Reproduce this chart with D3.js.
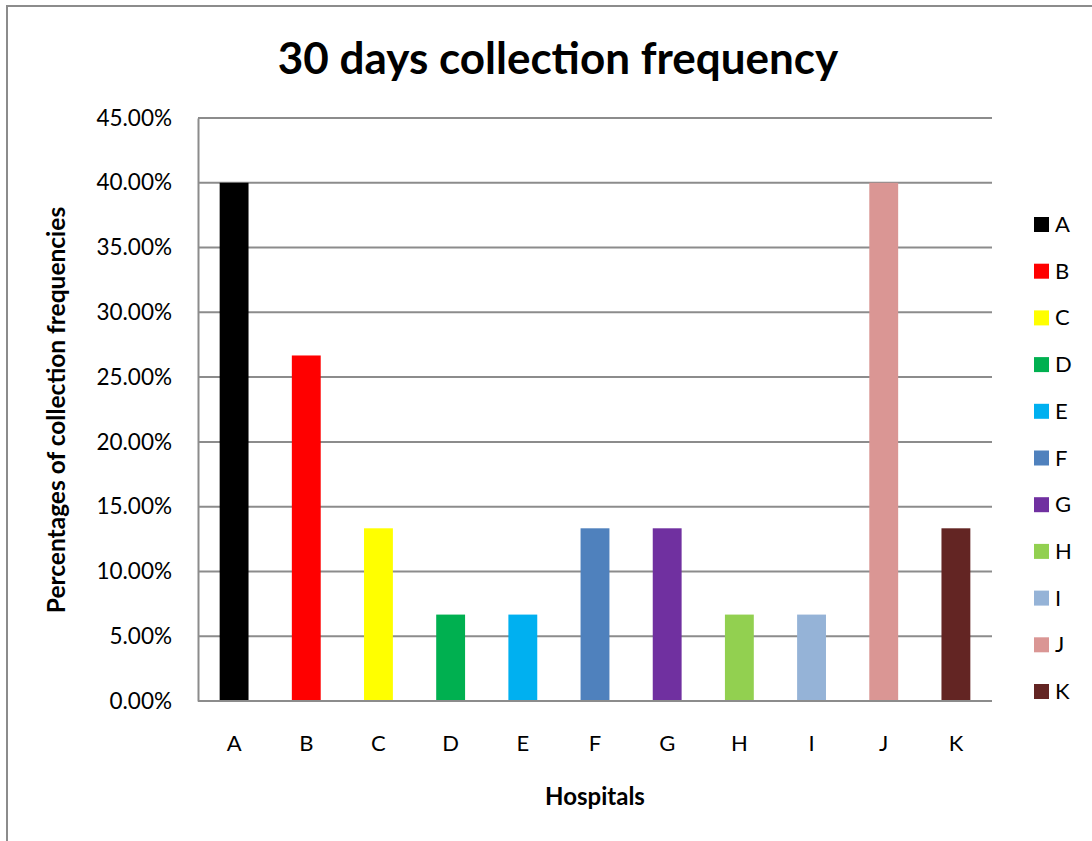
<!DOCTYPE html>
<html>
<head>
<meta charset="utf-8">
<script src="https://cdn.jsdelivr.net/npm/d3@7"></script>
<style>
  html, body { margin: 0; padding: 0; background: #fff; }
  svg { display: block; }
  text { font-family: Lato, "Open Sans", sans-serif; fill: #000; }
</style>
</head>
<body>
<svg id="chart" width="1092" height="841"></svg>
<script>
// Hospitals and their 30-day collection frequencies (percent)
const hospitals = ["A", "B", "C", "D", "E", "F", "G", "H", "I", "J", "K"];
const frequencies = [40.0, 26.67, 13.33, 6.67, 6.67, 13.33, 13.33, 6.67, 6.67, 40.0, 13.33];
const barColors = ["#000000", "#FF0000", "#FFFF00", "#00B050", "#00B0F0", "#4F81BD",
                   "#7030A0", "#92D050", "#95B3D7", "#DA9694", "#632523"];
const yTicks = [0, 5, 10, 15, 20, 25, 30, 35, 40, 45];

const titleText = "30 days collection frequency";
const xTitle = "Hospitals";
const yTitle = "Percentages of collection frequencies";

const svg = d3.select("#chart");

// outer chart frame
svg.append("rect")
  .attr("x", 7).attr("y", 6)
  .attr("width", 1092).attr("height", 900)
  .attr("fill", "none").attr("stroke", "#8c8c8c").attr("stroke-width", 2);

const plot = { left: 198, right: 992, top: 118, bottom: 701 };

const x = d3.scaleBand()
  .domain(hospitals)
  .range([plot.left, plot.right])
  .paddingInner(0.6).paddingOuter(0.3);

const y = d3.scaleLinear()
  .domain([0, 45])
  .range([plot.bottom, plot.top]);

// horizontal gridlines
svg.append("g")
  .selectAll("line")
  .data(yTicks.filter(t => t > 0))
  .join("line")
  .attr("x1", plot.left).attr("x2", plot.right)
  .attr("y1", d => y(d)).attr("y2", d => y(d))
  .attr("stroke", "#8c8c8c").attr("stroke-width", 2);

// bars
svg.append("g")
  .selectAll("rect")
  .data(hospitals.map((h, i) => ({ h, v: frequencies[i], c: barColors[i] })))
  .join("rect")
  .attr("x", d => x(d.h))
  .attr("width", x.bandwidth())
  .attr("y", d => y(d.v))
  .attr("height", d => y(0) - y(d.v))
  .attr("fill", d => d.c);

// y axis
const yAxis = svg.append("g")
  .attr("transform", `translate(${plot.left},0)`)
  .call(d3.axisLeft(y).tickValues(yTicks).tickSize(0).tickPadding(26)
    .tickFormat(d => d.toFixed(2) + "%"));
yAxis.select(".domain").attr("stroke", "#8c8c8c").attr("stroke-width", 2);
yAxis.selectAll("text").style("font-size", "22.5px").style("font-family", "Lato, sans-serif").attr("fill", "#000");

// x axis
const xAxis = svg.append("g")
  .attr("transform", `translate(0,${plot.bottom})`)
  .call(d3.axisBottom(x).tickSize(0).tickPadding(34));
xAxis.select(".domain").attr("stroke", "#8c8c8c").attr("stroke-width", 2)
  .attr("d", `M${plot.left},0H${plot.right}`);
xAxis.selectAll("text").style("font-size", "22px").style("font-family", "Lato, sans-serif").attr("fill", "#000");

// titles
svg.append("text")
  .attr("x", 558).attr("y", 74)
  .attr("text-anchor", "middle")
  .style("font-size", "44px").style("font-weight", "bold")
  .text(titleText);

svg.append("text")
  .attr("x", 595).attr("y", 805)
  .attr("text-anchor", "middle")
  .style("font-size", "24px").style("font-weight", "bold")
  .text(xTitle);

svg.append("text")
  .attr("transform", "translate(65,410) rotate(-90)")
  .attr("text-anchor", "middle")
  .style("font-size", "24.5px").style("font-weight", "bold")
  .text(yTitle);

// legend
const legend = svg.append("g")
  .selectAll("g")
  .data(hospitals.map((h, i) => ({ h, c: barColors[i] })))
  .join("g")
  .attr("transform", (d, i) => `translate(1034,${217 + i * 46.7})`);
legend.append("rect")
  .attr("width", 15).attr("height", 15)
  .attr("fill", d => d.c);
legend.append("text")
  .attr("x", 21).attr("y", 15)
  .style("font-size", "22px")
  .text(d => d.h);
</script>
</body>
</html>
